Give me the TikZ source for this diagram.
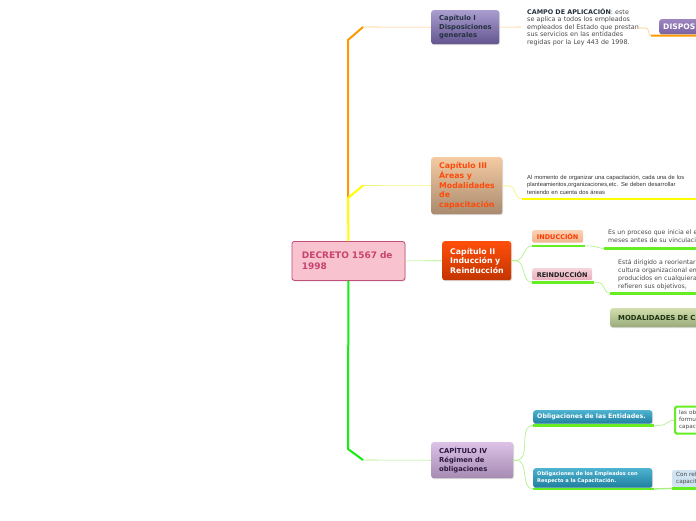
\documentclass[tikz,border=0pt]{standalone}
\usepackage{fontspec}
\setmainfont{DejaVu Sans}
\newfontfamily\arialfont{Liberation Sans}
\usetikzlibrary{positioning,shadows}
\definecolor{trunkorange}{HTML}{FF9900}
\definecolor{trunkyellow}{HTML}{FFFF00}
\definecolor{trunkgreen}{HTML}{11EE11}
\definecolor{lightorange}{HTML}{FFC97A}
\definecolor{lightyellow}{HTML}{F2F27A}
\definecolor{lightgreen}{HTML}{A8F080}
\definecolor{ulgreen}{HTML}{66EE22}
\definecolor{decpink}{HTML}{F8C3CF}
\definecolor{decedge}{HTML}{C24F7B}
\definecolor{dectext}{HTML}{C8436F}
\definecolor{campodark}{HTML}{24323F}
\definecolor{paragray}{HTML}{4A4A4A}
\definecolor{capitop}{HTML}{AA9ED0}
\definecolor{capibot}{HTML}{63548F}
\definecolor{capiiitop}{HTML}{F4CBA2}
\definecolor{capiiibot}{HTML}{A98A6E}
\definecolor{capiiitext}{HTML}{FF4A0A}
\definecolor{capiitop}{HTML}{FF4E0A}
\definecolor{capiibot}{HTML}{C33500}
\definecolor{capivtop}{HTML}{DCC2E6}
\definecolor{capivbot}{HTML}{A68AB2}
\definecolor{capivtext}{HTML}{2C1840}
\definecolor{disptop}{HTML}{9D86C0}
\definecolor{dispbot}{HTML}{7A62A2}
\definecolor{indtop}{HTML}{F9D2B4}
\definecolor{indbot}{HTML}{EFB38E}
\definecolor{indtext}{HTML}{FF3A00}
\definecolor{reindtop}{HTML}{F6D3DA}
\definecolor{reindbot}{HTML}{E9AEBC}
\definecolor{modtop}{HTML}{D2DEAD}
\definecolor{modbot}{HTML}{9AAA7A}
\definecolor{modtext}{HTML}{1E3614}
\definecolor{obltop}{HTML}{4DB3D0}
\definecolor{oblbot}{HTML}{1F7E9E}
\definecolor{relblue}{HTML}{CFE3F2}

\begin{document}
\begin{tikzpicture}[x=1pt, y=-1pt,
  box/.style={rounded corners=2.5pt, anchor=north west, align=left, inner xsep=8pt, inner ysep=0pt,
              drop shadow={shadow xshift=0.8pt, shadow yshift=-1pt, opacity=0.25, fill=black!60}},
  tag/.style={rounded corners=2pt, anchor=north west, align=center, inner sep=0pt,
              font=\fontsize{6.5}{8}\selectfont\bfseries},
  para/.style={anchor=base west, align=left, inner sep=0pt, text=paragray},
  trunk/.style={line width=2pt, line join=round},
  twig/.style={line width=0.6pt},
  uline/.style={line width=2.2pt, draw=ulgreen}]
\clip (0,0) rectangle (696,520);
\fill[white] (0,0) rectangle (696,520);

% root
\node[box, minimum width=113pt, minimum height=39pt, text width=93pt, inner xsep=10pt,
  fill=decpink, draw=decedge, line width=0.8pt, text=dectext,
  font=\fontsize{9}{11}\selectfont\bfseries] (decreto) at (291.5,241)
  {DECRETO 1567 de\\1998};

% chapters
\node[box, minimum width=68pt, minimum height=34pt, text width=52pt,
  top color=capitop, bottom color=capibot, text=campodark,
  font=\fontsize{6.8}{8.6}\selectfont\bfseries] (cap1) at (431,10)
  {Capítulo I\\Disposiciones\\generales};
\node[box, minimum width=71pt, minimum height=57pt, text width=55pt,
  top color=capiiitop, bottom color=capiiibot, text=capiiitext,
  font=\fontsize{7.8}{9.8}\selectfont\bfseries] (cap3) at (431,157)
  {Capítulo III\\Áreas y\\Modalidades\\de\\capacitación};
\node[box, minimum width=69pt, minimum height=39pt, text width=53pt,
  top color=capiitop, bottom color=capiibot, text=white,
  font=\fontsize{7.8}{9.5}\selectfont\bfseries] (cap2) at (442,241)
  {Capítulo II\\Inducción y\\Reinducción};
\node[box, minimum width=82pt, minimum height=36pt, text width=66pt,
  top color=capivtop, bottom color=capivbot, text=capivtext,
  font=\fontsize{6.8}{9}\selectfont\bfseries] (cap4) at (431,442)
  {CAPÍTULO IV\\Régimen de\\obligaciones};

% second level
\node[para, text width=130pt, font=\fontsize{6.4}{7.6}\selectfont] (campo) at (527,14)
  {{\bfseries\color{campodark}CAMPO DE APLICACIÓN}: este\\
   se aplica a todos los empleados\\
   empleados del Estado que prestan\\
   sus servicios en las entidades\\
   regidas por la Ley 443 de 1998.};
\node[box, minimum height=15pt, text width=80pt, inner xsep=4pt,
  top color=disptop, bottom color=dispbot, text=white,
  font=\fontsize{7.6}{8}\selectfont\bfseries] (dispos) at (659,19) {DISPOS};
\node[para, text width=180pt, text=black!80, font=\arialfont\fontsize{5.8}{7.3}\selectfont] (almom) at (527,179.5)
  {Al momento de organizar una capacitación, cada una de los\\
   planteamientos,organizaciones,etc. Se deben desarrollar\\
   teniendo en cuenta dos áreas};
\node[tag, minimum width=51pt, minimum height=12.5pt, top color=indtop, bottom color=indbot,
  text=indtext] (ind) at (532,230) {INDUCCIÓN};
\node[tag, minimum width=60pt, minimum height=12pt, top color=reindtop, bottom color=reindbot,
  text=black!88] (reind) at (532,268) {REINDUCCIÓN};
\node[para, text width=130pt, font=\fontsize{6.2}{8}\selectfont] (indtxt) at (608,234.5)
  {Es un proceso que inicia el en\\meses antes de su vinculació};
\node[para, text width=130pt, font=\fontsize{6.2}{8}\selectfont] (reindtxt) at (618,264.5)
  {Está dirigido a reorientar l\\cultura organizacional en\\producidos en cualquiera d\\refieren sus objetivos,};
\node[box, minimum height=19pt, text width=130pt, top color=modtop, bottom color=modbot,
  text=modtext, font=\fontsize{6.9}{8}\selectfont\bfseries] (modal) at (610,308)
  {MODALIDADES DE C};
\node[box, minimum width=119pt, minimum height=13.5pt, text width=111pt, inner xsep=4pt,
  top color=obltop, bottom color=oblbot, text=white,
  font=\fontsize{6.3}{8}\selectfont\bfseries] (oblent) at (533,410)
  {Obligaciones de las Entidades.};
\node[box, minimum width=119pt, minimum height=19.5pt, text width=111pt, inner xsep=4pt,
  top color=obltop, bottom color=oblbot, text=white,
  font=\fontsize{5.1}{7}\selectfont\bfseries] (oblemp) at (533,468)
  {Obligaciones de los Empleados con\\Respecto a la Capacitación.};
\node[anchor=north west, draw=ulgreen, line width=2.2pt, fill=white, rounded corners=1.5pt,
  minimum height=27pt, text width=40pt, inner xsep=4pt, inner ysep=0pt, align=left,
  text=paragray, font=\fontsize{5.7}{7}\selectfont] (lasob) at (674,405.5)
  {las ob\\formu\\capaci};
\node[anchor=north west, fill=relblue, rounded corners=1.5pt, minimum height=17pt,
  text width=40pt, inner xsep=4pt, inner ysep=0pt, align=left,
  text=paragray, font=\fontsize{5.7}{7}\selectfont] (conrel) at (672,470)
  {Con rel\\capacit};

% trunk
\coordinate (jor) at (348,40);
\coordinate (kor) at (363,27);
\coordinate (jyel) at (348,198);
\coordinate (kyel) at (363,185.5);
\coordinate (jgr) at (348,449);
\coordinate (kgr) at (363,460);
\draw[trunk, trunkorange] (jyel) -- (jor) -- (kor);
\draw[twig, lightorange] (kor) -- (cap1.west);
\draw[trunk, trunkyellow] (decreto.north) -- (jyel) -- (kyel);
\draw[twig, lightyellow] (kyel) -- (cap3.west);
\draw[trunk, trunkgreen] (decreto.south) -- (jgr) -- (kgr);
\draw[twig, lightgreen] (kgr) -- (cap4.west);
\draw[twig, lightgreen] (decreto.east) -- (cap2.west);

% branches
\coordinate (campoin) at (521,27);
\coordinate (campout) at (637,28);
\coordinate (dispul) at (651,35.5);
\draw[twig, lightorange] (cap1.east) -- (campoin);
\draw[twig, lightorange] (campout) -- (646,28) to[out=0,in=180] (dispul);
\draw[line width=2pt, trunkorange] (dispul) -- ([yshift=-1.5pt]dispos.south east);

\coordinate (almomul) at (522,199);
\coordinate (almomend) at (700,199);
\draw[twig, lightyellow] (cap3.east) -- ++(6,0) to[out=0,in=180] (almomul);
\draw[line width=2.2pt, trunkyellow] (almomul) -- (almomend);

\draw[twig, lightgreen] (cap2.east) -- ++(4,0) to[out=0,in=180] ([yshift=-3pt]ind.south west);
\draw[twig, lightgreen] (cap2.east) -- ++(4,0) to[out=0,in=180] ([yshift=-2pt]reind.south west);
\draw[uline] ([yshift=-3pt]ind.south west) -- ([xshift=2pt,yshift=-3pt]ind.south east);
\draw[uline] ([yshift=-2pt]reind.south west) -- ([xshift=2pt,yshift=-2pt]reind.south east);

\coordinate (indtxtul) at (604,248.5);
\coordinate (indtxtend) at (700,248.5);
\draw[twig, lightgreen] ([xshift=2pt,yshift=-3pt]ind.south east) -- ++(5,0) to[out=0,in=180] (indtxtul);
\draw[uline] (indtxtul) -- (indtxtend);
\coordinate (reindtxtul) at (610,293.5);
\coordinate (reindtxtend) at (700,293.5);
\draw[twig, lightgreen] ([xshift=2pt,yshift=-2pt]reind.south east) -- ++(4,0) to[out=0,in=180] (reindtxtul);
\draw[uline] (reindtxtul) -- (reindtxtend);

\draw[twig, lightgreen] (cap4.east) -- ++(3,0) to[out=0,in=180] ([yshift=-1.5pt]oblent.south west);
\draw[twig, lightgreen] (cap4.east) -- ++(3,0) to[out=0,in=180] ([yshift=-1pt]oblemp.south west);
\draw[uline] ([yshift=-1.5pt]oblent.south west) -- ([xshift=2pt,yshift=-1.5pt]oblent.south east);
\draw[uline] ([yshift=-1pt]oblemp.south west) -- ([xshift=2pt,yshift=-1pt]oblemp.south east);
\draw[twig, lightgreen] ([xshift=2pt,yshift=-1.5pt]oblent.south east) -- ++(6,0) to[out=0,in=180] (lasob.west);
\draw[line width=1.4pt, lightgreen] ([xshift=2pt,yshift=-1pt]oblemp.south east) -- ([yshift=-1pt]conrel.south west);
\draw[uline] ([yshift=-1pt]conrel.south west) -- ([yshift=-1pt]conrel.south east);
\end{tikzpicture}
\end{document}
